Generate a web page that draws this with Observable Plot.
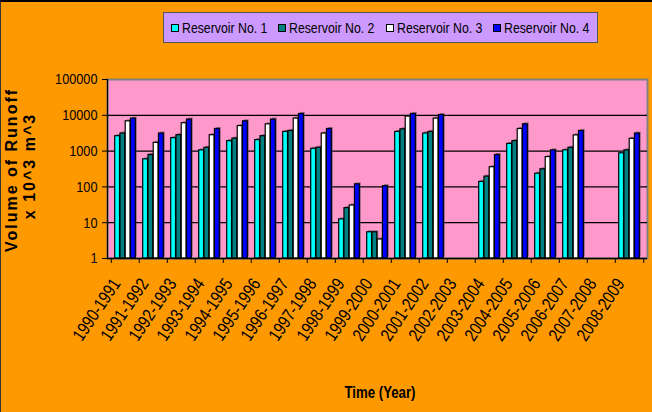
<!DOCTYPE html>
<html>
<head>
<meta charset="utf-8">
<script src="https://cdn.jsdelivr.net/npm/d3@7"></script>
<script src="https://cdn.jsdelivr.net/npm/@observablehq/plot@0.6"></script>
<style>
  html, body { margin: 0; padding: 0; background: #FF9900; }
  #wrap { position: relative; width: 652px; height: 412px; overflow: hidden; box-sizing: border-box; border-top: 2px solid #000; border-left: 1px solid #333; }
  #chart { position: absolute; left: -1px; top: -2px; }
  #legend { position: absolute; left: 162px; top: 10px; width: 435px; height: 31px; background: #CC99FF; border: 1px solid #555; box-sizing: border-box; font-family: 'Liberation Sans', Arial, sans-serif; font-size: 15px; }
  .item { position: absolute; top: 6px; white-space: nowrap; line-height: 17px; }
  .sw { display: inline-block; width: 6px; height: 6px; border: 1px solid #000; margin-right: 3px; vertical-align: 1px; }
  .lt { display: inline-block; transform: scaleX(0.82); transform-origin: 0 50%; }
</style>
</head>
<body>
<div id="wrap"><div id="chart"></div><div id="legend"></div></div>
<script>
const years = ["1990-1991","1991-1992","1992-1993","1993-1994","1994-1995","1995-1996","1996-1997","1997-1998","1998-1999","1999-2000","2000-2001","2001-2002","2002-2003","2003-2004","2004-2005","2005-2006","2006-2007","2007-2008","2008-2009"];
const seriesNames = ["Reservoir No. 1","Reservoir No. 2","Reservoir No. 3","Reservoir No. 4"];
const res1 = [2610, 590, 2300, 1050, 1900, 2030, 3440, 1160, 12.4, 5.4, 3440, 3100, null, 138, 1590, 234, 1050, null, 870];
const res2 = [3100, 780, 2780, 1240, 2240, 2610, 3660, 1240, 25.5, 5.4, 4060, 3440, null, 194, 1900, 310, 1240, null, 1050];
const res3 = [6800, 1700, 6000, 2780, 5000, 5600, 8100, 3100, 30.3, 3.4, 9200, 8100, null, 355, 4150, 680, 2750, null, 2200];
const res4 = [8100, 3100, 7600, 4150, 6800, 7600, 10900, 4150, 118, 105, 10900, 10200, null, 780, 5600, 1050, 3660, null, 3100];
const yTicks = [1, 10, 100, 1000, 10000, 100000];
const colors = ["#00FFFF", "#008080", "#FFFFFF", "#0000FF"];

const allSeries = [res1, res2, res3, res4];
const data = [];
allSeries.forEach((vals, i) => vals.forEach((v, j) => {
  if (v != null) data.push({year: years[j], series: seriesNames[i], i, value: v});
}));

const W = 652, H = 412, ml = 107, mr = 5, mt = 79, mb = 154;
const bw = (W - ml - mr) / years.length;
const groupW = bw * 0.74;
const off = (bw - groupW) / 2;
const w = groupW / 4;

const barMarks = [];
seriesNames.forEach((s, i) => {
  const sub = data.filter(d => d.i === i);
  const insetLeft = off + i * w, insetRight = bw - off - (i + 1) * w;
  barMarks.push(Plot.barY(sub, {x: "year", y1: 1, y2: "value", fill: "#444", fillOpacity: 0.55, insetLeft, insetRight, dx: 1.5, dy: -1.5}));
  barMarks.push(Plot.barY(sub, {x: "year", y1: 1, y2: "value", fill: colors[i], stroke: "#000", strokeWidth: 1.2, insetLeft, insetRight}));
});

const chart = Plot.plot({
  width: W, height: H,
  marginLeft: ml, marginRight: mr, marginTop: mt, marginBottom: mb,
  style: {background: "transparent", fontFamily: "'Liberation Sans', Arial, sans-serif", color: "#000"},
  x: {type: "band", domain: years, paddingInner: 0, paddingOuter: 0},
  y: {type: "log", domain: [1, 100000]},
  marks: [
    Plot.frame({fill: "#FF99CC", stroke: "#808080", strokeWidth: 2}),
    Plot.ruleY([10, 100, 1000, 10000], {stroke: "#000", strokeWidth: 1.2}),
    ...barMarks,
    Plot.frame({anchor: "left", stroke: "#000", strokeWidth: 1.2}),
    Plot.ruleY([1], {stroke: "#000", strokeWidth: 1.5}),
    Plot.axisY({ticks: yTicks, tickFormat: d3.format("d"), tickSize: 5, tickPadding: 5, fontSize: 15.5, label: null}),
    Plot.axisX({ticks: years, tickSize: 5, tickFormat: () => "", dx: -bw / 2, label: null}),
    Plot.axisX({ticks: [years[years.length - 1]], tickSize: 5, tickFormat: () => "", dx: bw / 2, label: null}),
    Plot.axisX({ticks: years, tickSize: 0, tickRotate: -56, tickPadding: 22, dx: -9, fontSize: 18, label: null})
  ]
});
document.getElementById("chart").appendChild(chart);

const svg = d3.select(chart);
// condense the axis labels horizontally like the narrow font of the original
svg.selectAll("text").each(function () {
  const L = this.getComputedTextLength();
  if (L > 0) {
    this.setAttribute("textLength", L * 0.82);
    this.setAttribute("lengthAdjust", "spacingAndGlyphs");
  }
});

svg.append("text").attr("transform", "translate(13,170) rotate(-90)")
  .attr("text-anchor", "middle").attr("dominant-baseline", "middle")
  .attr("font-family", "'Liberation Sans', Arial, sans-serif").attr("font-weight", "bold")
  .attr("font-size", 16).style("letter-spacing", "2px").attr("fill", "#000").text("Volume of Runoff");
svg.append("text").attr("transform", "translate(31,166) rotate(-90)")
  .attr("text-anchor", "middle").attr("dominant-baseline", "middle")
  .attr("font-family", "'Liberation Sans', Arial, sans-serif").attr("font-weight", "bold")
  .attr("font-size", 16).style("letter-spacing", "2px").attr("fill", "#000").text("x 10^3 m^3");
svg.append("text").attr("x", 380).attr("y", 394)
  .attr("text-anchor", "middle").attr("dominant-baseline", "middle")
  .attr("font-family", "'Liberation Sans', Arial, sans-serif").attr("font-weight", "bold")
  .attr("font-size", 16).attr("textLength", 71).attr("lengthAdjust", "spacingAndGlyphs")
  .attr("fill", "#000").text("Time (Year)");

const legend = d3.select("#legend");
seriesNames.forEach((s, i) => {
  const it = legend.append("div").attr("class", "item").style("left", (7 + i * 107.3) + "px");
  it.append("span").attr("class", "sw").style("background", colors[i]);
  it.append("span").attr("class", "lt").text(s);
});
</script>
</body>
</html>
